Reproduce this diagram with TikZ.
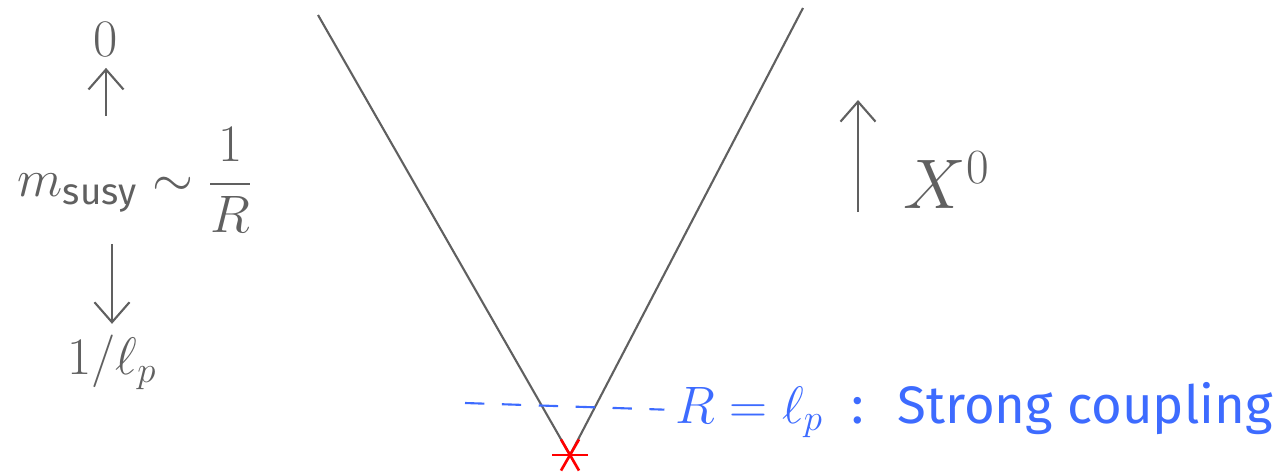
\RequirePackage{fix-cm}
\documentclass[tikz,border=0pt]{standalone}
\usepackage{amsmath,amssymb}
\usepackage{fontspec}
\setmainfont{Fira Sans}
\usepackage{xcolor}
\usepackage{tikz}
\usetikzlibrary{arrows.meta,positioning,calc}
\definecolor{pen}{HTML}{606060}
\definecolor{ink}{HTML}{3D6BFF}

\begin{document}
\begin{tikzpicture}[x=0.02cm, y=-0.02cm,
  lbl/.style={text=pen, font=\fontsize{30}{36}\selectfont, inner sep=2pt},
  note/.style={text=ink, font=\fontsize{30}{36}\selectfont, inner sep=0pt, anchor=west},
  arr/.style={-{Straight Barb[length=4mm,width=7mm]}, draw=pen, line width=1.2pt},
  cone/.style={draw=pen, line width=1.2pt}
]
\useasboundingbox (0,0) rectangle (1273,476);

% scale of masses on the left
\node[lbl] (msusy) at (135,180) {$m_{\mathrm{susy}} \sim \dfrac{1}{R}$};
\node[lbl] (zero) at (106,40) {$0$};
\node[lbl] (lp) at (112,362) {$1/\ell_p$};
\draw[arr, shorten <=4pt, shorten >=4pt] (zero |- msusy.north) -- (zero.south);
\draw[arr, shorten <=4pt, shorten >=4pt] (lp |- msusy.south) -- (lp.north);

% the cone and its tip
\coordinate (tip) at (570,455);
\coordinate (tl) at (318,15);
\coordinate (tr) at (803,8);
\draw[cone] (tl) -- (tip) -- (tr);
\foreach \a in {0,60,120}
  \draw[red, line width=1.5pt] ($(tip)+(\a:18)$) -- ($(tip)+(\a+180:18)$);

% time direction
\coordinate (tbot) at (858,212);
\coordinate (ttop) at (858,100);
\draw[arr] (tbot) -- (ttop);
\node[lbl, font=\fontsize{40}{48}\selectfont, anchor=west] (time) at (900,180) {$X^0$};

% strong coupling line
\coordinate (dstart) at (465,403);
\node[note] (strong) at (675,410) {$R = \ell_p$ \;:\; Strong coupling};
\draw[ink, line width=1.2pt, dash pattern=on 11pt off 10pt, shorten >=6pt] (dstart) -- (strong.west);
\end{tikzpicture}
\end{document}
